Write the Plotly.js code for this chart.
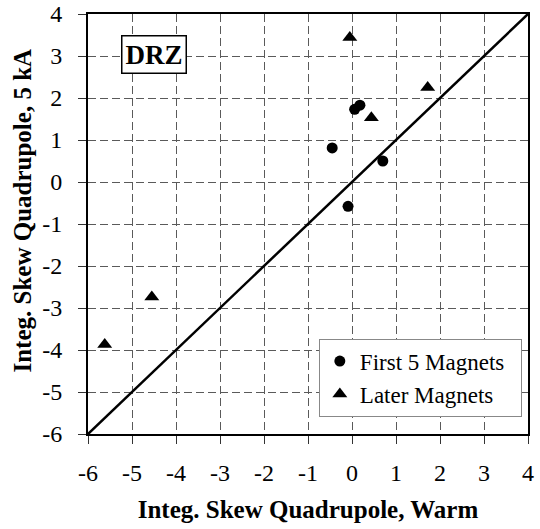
<!DOCTYPE html>
<html>
<head>
<meta charset="utf-8">
<script src="https://cdn.plot.ly/plotly-3.0.1.min.js"></script>
<style>
  html, body { margin: 0; padding: 0; background: #fff; }
  #chart { width: 540px; height: 529px; }
</style>
</head>
<body>
<div id="chart"></div>
<script>
// Integrated skew quadrupole: warm measurement vs. 5 kA measurement
const firstWarm = [-0.45, 0.70, -0.09, 0.06, 0.18];
const firstCold = [0.81, 0.50, -0.58, 1.73, 1.83];

const laterWarm = [-0.05, 1.72, 0.44, -4.55, -5.62];
const laterCold = [3.44, 2.25, 1.53, -2.74, -3.87];

// y = x reference line
const diagX = [-6, 4];
const diagY = [-6, 4];

const tickVals = [-6, -5, -4, -3, -2, -1, 0, 1, 2, 3, 4];
const tickText = ['-6', '-5', '-4', '-3', '-2', '-1', '0', '1', '2', '3', '4'];

const xTitle = 'Integ. Skew Quadrupole, Warm';
const yTitle = 'Integ. Skew Quadrupole, 5 kA';

// legend names, padded on the right with no-break spaces to widen the box
const legendPad = '\u00a0\u00a0';

const serif = '"Liberation Serif", "Times New Roman", Times, serif';

const traces = [
  {
    x: diagX, y: diagY, mode: 'lines', type: 'scatter',
    line: { color: '#000', width: 2.5 }, showlegend: false, hoverinfo: 'skip'
  },
  {
    x: firstWarm, y: firstCold, mode: 'markers', type: 'scatter',
    name: 'First 5 Magnets' + legendPad,
    marker: { symbol: 'circle', size: 11, color: '#000' }
  },
  {
    x: laterWarm, y: laterCold, mode: 'markers', type: 'scatter',
    name: 'Later Magnets' + legendPad,
    marker: { symbol: 'triangle-up', size: 13, color: '#000' }
  }
];

const axisCommon = {
  range: [-6, 4],
  tickmode: 'array',
  tickvals: tickVals,
  ticktext: tickText,
  ticks: 'outside',
  ticklen: 8,
  tickwidth: 1,
  tickcolor: '#333',
  showline: true,
  linecolor: '#000',
  linewidth: 2,
  mirror: true,
  showgrid: true,
  gridcolor: '#5a5a5a',
  gridwidth: 1,
  griddash: '8px,4px',
  zeroline: false,
  tickfont: { family: serif, size: 24, color: '#000' }
};

const layout = {
  width: 540,
  height: 529,
  margin: { l: 88, r: 12, t: 14, b: 95 },
  paper_bgcolor: '#fff',
  plot_bgcolor: '#fff',
  font: { family: serif, color: '#000' },
  xaxis: Object.assign({}, axisCommon, {
    ticklabelstandoff: 8,
    title: { text: '<b>' + xTitle + '</b>', font: { family: serif, size: 25 }, standoff: 16 }
  }),
  yaxis: Object.assign({}, axisCommon, {
    ticklabelstandoff: 11
  }),
  legend: {
    x: 0.986, xanchor: 'right',
    y: 0.227, yanchor: 'top',
    bgcolor: '#fff',
    bordercolor: '#888',
    borderwidth: 1,
    font: { family: serif, size: 23, color: '#000' }
  },
  annotations: [
    {
      x: -4.49, y: 3.03, xref: 'x', yref: 'y',
      text: '<b>DRZ</b>', showarrow: false,
      font: { family: serif, size: 27, color: '#000' },
      bgcolor: '#fff', bordercolor: '#000', borderwidth: 1.5, borderpad: 3
    },
    {
      // vertical axis title
      x: -0.149, y: 0.533, xref: 'paper', yref: 'paper',
      xanchor: 'center', yanchor: 'middle',
      text: '<b>' + yTitle + '</b>', textangle: -90, showarrow: false,
      font: { family: serif, size: 25, color: '#000' }
    }
  ],
  showlegend: true
};

Plotly.newPlot('chart', traces, layout, { displayModeBar: false, staticPlot: true });
</script>
</body>
</html>
